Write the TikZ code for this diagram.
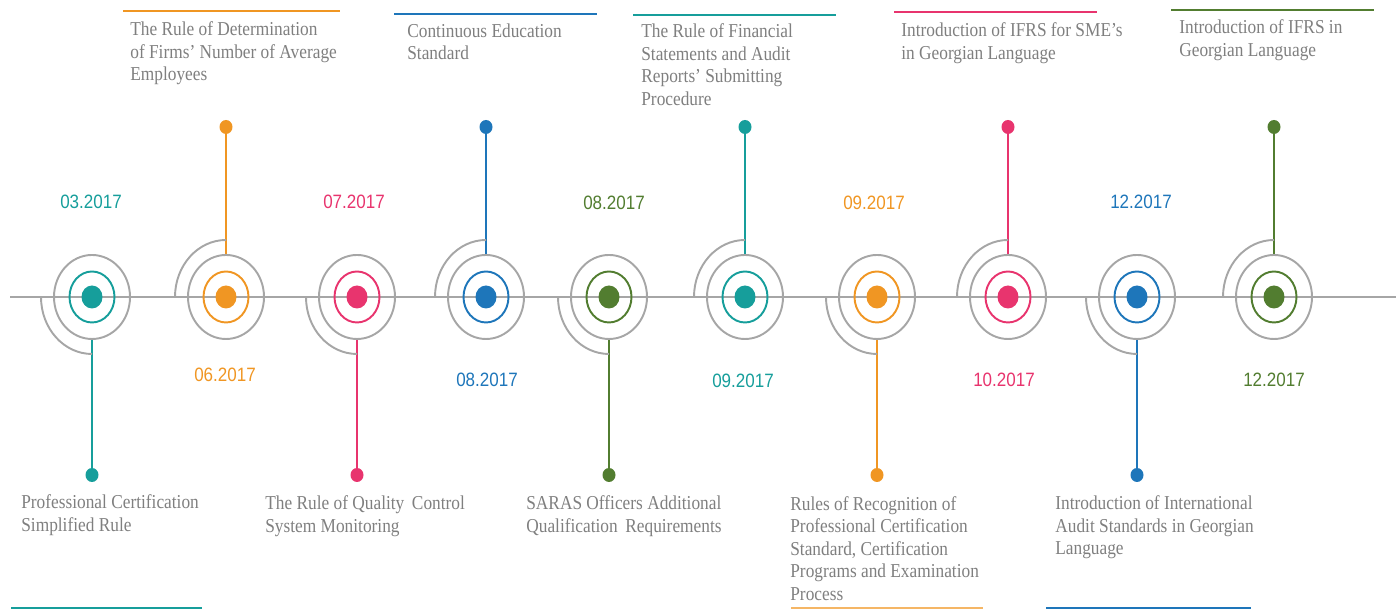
\documentclass[tikz,border=0pt]{standalone}
\usepackage{fontspec}
\setmainfont[FakeStretch=0.88]{Liberation Serif}
\newfontfamily\datefont[FakeStretch=0.88]{Liberation Sans}
\usetikzlibrary{shapes.geometric,calc}
\definecolor{TLTeal}{RGB}{22,158,155}
\definecolor{TLOrange}{RGB}{240,150,35}
\definecolor{TLPink}{RGB}{232,52,110}
\definecolor{TLBlue}{RGB}{30,118,186}
\definecolor{TLGreen}{RGB}{82,125,48}
\definecolor{TLGray}{RGB}{166,166,166}
\definecolor{TLText}{RGB}{127,127,127}

\begin{document}
\begin{tikzpicture}[x=0.2mm,y=0.2mm,
ring/.style={ellipse,draw=TLGray,line width=1.1pt,inner sep=0pt,minimum width=1.52cm,minimum height=1.68cm},
band/.style={ellipse,line width=1.1pt,inner sep=0pt,minimum width=0.9cm,minimum height=1.02cm},
core/.style={ellipse,inner sep=0pt,minimum width=0.42cm,minimum height=0.46cm},
enddot/.style={ellipse,inner sep=0pt,minimum width=0.26cm,minimum height=0.28cm},
datelbl/.style={font=\datefont\fontsize{11}{13}\selectfont,inner sep=0pt},
txt/.style={font=\fontsize{11.2}{12.8}\selectfont,text=TLText,align=left,anchor=north west,inner sep=0pt},
bar/.style={line width=1.1pt}
]
\useasboundingbox (0,0) rectangle (1400,609);
% time axis
\coordinate (ax0) at (10,312);
\coordinate (ax1) at (1396,312);
\draw[TLGray,line width=1.1pt] (ax0) -- (ax1);
% markers
\foreach \i/\x/\c/\ey/\dx/\dy/\a/\d in {
  1/92/TLTeal/134/91/407/270/03.2017,
  2/226/TLOrange/482/225/234/90/06.2017,
  3/357/TLPink/134/354/407/270/07.2017,
  4/486/TLBlue/482/487/229/90/08.2017,
  5/609/TLGreen/134/614/406/270/08.2017,
  6/745/TLTeal/482/743/228/90/09.2017,
  7/877/TLOrange/134/874/406/270/09.2017,
  8/1008/TLPink/482/1004/229/90/10.2017,
  9/1137/TLBlue/134/1141/407/270/12.2017,
  10/1274/TLGreen/482/1274/229/90/12.2017}{
  \node[ring] (g\i) at (\x,312) {};
  \node[band,draw=\c] (r\i) at (\x,312) {};
  \node[core,fill=\c] (d\i) at (\x,312) {};
  \node[enddot,fill=\c] (e\i) at (\x,\ey) {};
  \draw[\c,line width=1.1pt] (g\i) -- (e\i);
  \draw[TLGray,line width=1.1pt] ($(g\i)+(-51,0)$) arc[start angle=180,end angle=\a,x radius=51,y radius=57];
  \node[datelbl,text=\c] (t\i) at (\dx,\dy) {\d};
}
% upper labels
\draw[bar,TLOrange] (123,598) -- (340,598);
\node[txt] (l2) at (130,587.5) {The Rule of Determination\\of Firms’ Number of Average\\Employees};
\draw[bar,TLBlue] (394,595) -- (597,595);
\node[txt] (l4) at (407,585.5) {Continuous Education\\Standard};
\draw[bar,TLTeal] (633,594) -- (836,594);
\node[txt] (l6) at (641,585.5) {The Rule of Financial\\Statements and Audit\\Reports’ Submitting\\Procedure};
\draw[bar,TLPink] (894,597) -- (1097,597);
\node[txt] (l8) at (901,586.5) {Introduction of IFRS for SME’s\\in Georgian Language};
\draw[bar,TLGreen] (1171,599) -- (1374,599);
\node[txt] (l10) at (1179,589.5) {Introduction of IFRS in\\Georgian Language};
% lower labels
\node[txt] (l1) at (21,114.5) {Professional Certification\\Simplified Rule};
\draw[bar,TLTeal] (11,1) -- (202,1);
\node[txt] (l3) at (265,113.5) {The Rule of Quality\,\ Control\\System Monitoring};
\node[txt] (l5) at (526,113.5) {SARAS Officers Additional\\Qualification\,\ Requirements};
\node[txt] (l7) at (790,113) {Rules of Recognition of\\Professional Certification\\Standard, Certification\\Programs and Examination\\Process};
\draw[bar,TLOrange!70] (791,1) -- (983,1);
\node[txt] (l9) at (1055,113.5) {Introduction of International\\Audit Standards in Georgian\\Language};
\draw[bar,TLBlue] (1046,1) -- (1251,1);
\end{tikzpicture}
\end{document}
